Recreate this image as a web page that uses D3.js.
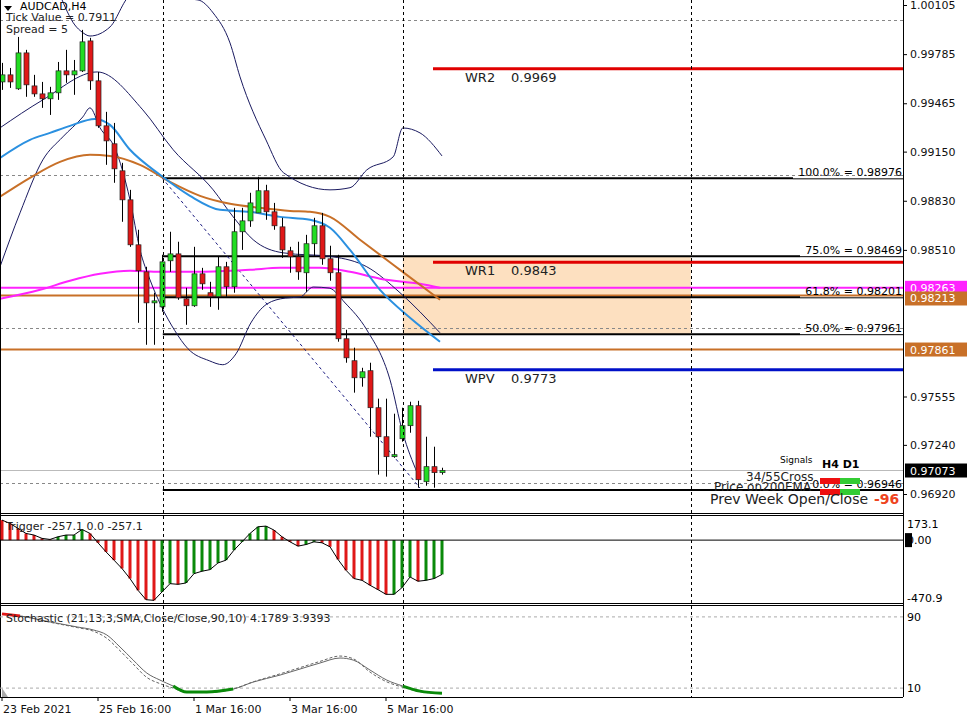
<!DOCTYPE html>
<html><head><meta charset="utf-8">
<script src="https://cdn.jsdelivr.net/npm/d3@7"></script>
<style>body{margin:0;background:#fff}svg{display:block}text{font-family:"DejaVu Sans",sans-serif}</style>
</head><body><svg id="c" width="968" height="720"></svg>
<script>
// ---- data ----
const opens=[.99604,.99650,.99559,.99793,.99578,.99526,.99494,.99533,.99676,.99650,.99676,.99871,.99611,.99318,.99201,.99025,.98836,.98543,.98367,.98165,.98139,.98439,.98484,.98191,.98146,.98354,.98231,.98205,.98400,.98270,.98628,.98699,.98751,.98895,.98758,.98660,.98504,.98465,.98361,.98550,.98667,.98452,.98361,.97931,.97788,.97677,.97723,.97482,.97293,.97163,.97280,.97365,.97495,.97000,.97098,.97059];
const highs=[.99728,.99695,.99897,.99813,.99650,.99604,.99572,.99734,.99813,.99747,.99943,.99891,.99669,.99409,.99337,.99077,.98901,.98641,.98400,.98231,.98478,.98628,.98563,.98263,.98530,.98393,.98302,.98465,.98432,.98784,.98784,.98882,.98986,.98934,.98816,.98719,.98530,.98563,.98608,.98719,.98751,.98537,.98478,.97990,.97873,.97742,.97775,.97541,.97541,.97443,.97482,.97521,.97527,.97293,.97228,.97091];
const lows=[.99552,.99565,.99552,.99507,.99507,.99435,.99389,.99487,.99598,.99520,.99669,.99552,.99305,.99064,.98947,.98693,.98530,.98035,.97892,.97892,.98107,.98367,.98185,.98022,.98139,.98250,.98139,.98120,.98205,.98231,.98510,.98660,.98751,.98706,.98641,.98458,.98361,.98315,.98237,.98465,.98413,.98309,.97912,.97775,.97580,.97619,.97293,.97046,.97033,.97156,.97261,.97319,.96961,.96974,.96961,.97046];
const closes=[.99650,.99604,.99793,.99585,.99526,.99494,.99533,.99676,.99650,.99676,.99865,.99611,.99318,.99220,.99038,.98836,.98543,.98374,.98165,.98178,.98432,.98484,.98198,.98146,.98354,.98289,.98205,.98400,.98270,.98628,.98699,.98816,.98895,.98758,.98667,.98510,.98465,.98367,.98550,.98667,.98452,.98361,.97931,.97807,.97677,.97716,.97482,.97293,.97163,.97176,.97365,.97495,.97013,.97098,.97059,.97073];
const emaFastX=[-0.25,3.5,6,8.5,11.6,13.5,16,19.75,23.5,27.25,31,34.75,38.5,41,43.5,47.25,51,54.75];
const emaFastY=[.99109,.99227,.99272,.99318,.99363,.99324,.99162,.98999,.98862,.98771,.98758,.98725,.98706,.98654,.98510,.98250,.98068,.97912];
const emaSlowX=[-0.25,3.5,7.25,11,13.5,17.25,21,24.75,28.5,32.25,36,38.5,41,44.75,49.75,54.75];
const emaSlowY=[.98856,.98979,.99083,.99129,.99122,.99064,.98953,.98862,.98810,.98784,.98764,.98758,.98725,.98576,.98380,.98185];
const ema200X=[-0.25,4.75,8.5,12.25,16,19.75,24.75,31,34.75,39.75,43.5,47.25,52.25,54.75];
const ema200Y=[.98191,.98250,.98309,.98354,.98374,.98367,.98367,.98380,.98393,.98393,.98367,.98322,.98289,.98263];
const bbUpX=[7.25,9.1,10,11,13.5,16.25,24.5,26.4,28.5,29.75,33,35.2,41,43.5,45.6,48.9,50.1,52.25,55];
const bbUpY=[1.00170,.99975,.99929,.99903,.99962,1.00170,1.00138,1.00053,.99858,.99637,.99226,.99012,.98901,.98915,.99031,.99116,.99304,.99272,.99122];
const bbMidX=[-0.25,5.1,11.9,17.6,21.4,26.4,28.9,31.4,35.1,41.4,45.6,49.75,54.75];
const bbMidY=[.99305,.99487,.99669,.99422,.99162,.98901,.98725,.98576,.98491,.98465,.98400,.98231,.97970];
const bbLoX=[-0.25,2.25,5.1,7.6,10.1,11,12.25,14.1,16,17.25,18.5,19.9,21.6,23.25,25.9,27.6,29.25,31.1,33.1,35.4,37.25,38.9,40.9,42.9,45.6,48.5,50.1,51.9];
const bbLoY=[.98400,.98751,.99096,.99246,.99376,.99435,.99305,.99174,.98836,.98510,.98315,.98145,.97984,.97866,.97788,.97762,.97833,.98034,.98157,.98196,.98203,.98268,.98261,.98164,.97989,.97664,.97318,.97058];
const trend=[[20,.98979],[52.25,.96959]];
const trigger=[150,125,88,50,38,13,5,25,38,38,80,50,-20,-88,-150,-213,-288,-376,-446,-451,-388,-326,-331,-321,-251,-233,-221,-171,-150,-75,-13,50,100,105,75,25,-13,-45,-33,-13,-20,-50,-145,-226,-288,-301,-338,-371,-406,-406,-356,-276,-308,-301,-288,-257];
const stochX=[0,2.25,6,9.4,11.4,13.1,14.75,16.4,18.1,19.75,21.4,23.1,25.6,28.9,31.4,34.75,37.25,39.75,42.25,43.9,46,48.1,50.1,52.25,55];
const stochMain=[93.4,91.1,84.4,78.7,75.4,69.7,56.2,41.5,26.9,19.0,12.3,5.5,5.5,8.9,16.8,24.6,31.4,38.2,43.8,41.5,30.3,19.0,12.3,6.6,4.2];
const stochSig=[93,91,84,78,74,66,52,37,22,15,10,5,5,9,17,26,33,40,46,43,28,17,11,6,3.9];
const priceTicks=[1.00105,0.99785,0.99465,0.99150,0.98830,0.98510,0.97555,0.97240,0.96920];
const gridPrices=[1.00007,0.98998,0.98003,0.96994];
const timeIdx=[0,12,24,36,48];
const timeLabels=["23 Feb 2021","25 Feb 16:00","1 Mar 16:00","3 Mar 16:00","5 Mar 16:00"];
const vGridIdx=[20.1,50.1,86.1];
const fibLevels=[{p:0.98976,t:"100.0% = 0.98976"},{p:0.98469,t:"75.0% = 0.98469"},{p:0.98201,t:"61.8% = 0.98201"},{p:0.97961,t:"50.0% = 0.97961"},{p:0.96946,t:"0.0% = 0.96946"}];
const pivots=[{p:0.9969,t:"WR2",c:"#e00000"},{p:0.9843,t:"WR1",c:"#e00000"},{p:0.9773,t:"WPV",c:"#0010c8"}];
const hLines=[{p:0.98263,c:"#ff22ff",lab:"0.98263"},{p:0.98213,c:"#c87028",lab:"0.98213"},{p:0.97861,c:"#c87028",lab:"0.97861"}];
const current=0.97073;

// ---- drawing ----
const svg=d3.select("#c");
const x=d3.scaleLinear().domain([0,55]).range([2,442]);
const y=d3.scaleLinear().domain([0.96920,1.00105]).range([494,5]);
const yt=d3.scaleLinear().domain([-470.9,173.1]).range([603,517]);
const ys=d3.scaleLinear().domain([0,100]).range([697,608]);
const R=903;
const defs=svg.append("defs");
defs.append("clipPath").attr("id","cm").append("rect").attr("x",0).attr("y",0).attr("width",R).attr("height",513);

const main=svg.append("g").attr("clip-path","url(#cm)");
main.append("rect").attr("x",x(vGridIdx[1])).attr("width",x(vGridIdx[2])-x(vGridIdx[1])).attr("y",y(0.98469)).attr("height",y(0.97961)-y(0.98469)).attr("fill","#fde0c0");
gridPrices.forEach(p=>main.append("line").attr("x1",0).attr("x2",R).attr("y1",Math.round(y(p))+.5).attr("y2",Math.round(y(p))+.5).attr("stroke","#888").attr("stroke-dasharray","3,3"));
vGridIdx.forEach(i=>svg.append("line").attr("x1",Math.round(x(i))+.5).attr("x2",Math.round(x(i))+.5).attr("y1",0).attr("y2",697).attr("stroke","#000").attr("stroke-dasharray","3,3"));
main.append("line").attr("x1",0).attr("x2",R).attr("y1",y(current)).attr("y2",y(current)).attr("stroke","#bbb");
hLines.forEach(h=>main.append("line").attr("x1",0).attr("x2",R).attr("y1",y(h.p)).attr("y2",y(h.p)).attr("stroke",h.c).attr("stroke-width",2));
fibLevels.forEach((f,k)=>{
  const yy=y(f.p);
  main.append("line").attr("x1",x(vGridIdx[0])).attr("x2",k==4?R:(k==0?793:800)).attr("y1",yy).attr("y2",yy).attr("stroke","#000").attr("stroke-width",2);
  main.append("line").attr("x1",k==0?793:800).attr("x2",R).attr("y1",yy+.5).attr("y2",yy+.5).attr("stroke","#000");
  if(k<4) main.append("text").attr("x",R-1).attr("y",yy-2).attr("text-anchor","end").attr("font-size",11).text(f.t);
});
pivots.forEach(p=>{
  main.append("line").attr("x1",433).attr("x2",R).attr("y1",y(p.p)).attr("y2",y(p.p)).attr("stroke",p.c).attr("stroke-width",3);
  main.append("text").attr("x",465).attr("y",y(p.p)+13).attr("font-size",13).attr("fill","#222").text(p.t);
  main.append("text").attr("x",511).attr("y",y(p.p)+13).attr("font-size",13).attr("fill","#222").text(p.p.toFixed(4));
});
const ln=(xs,vs,sc)=>d3.line().curve(d3.curveMonotoneX).x((d,i)=>x(xs[i])).y(d=>sc(d))(vs);
[[bbUpX,bbUpY],[bbMidX,bbMidY],[bbLoX,bbLoY]].forEach(a=>main.append("path").attr("d",ln(a[0],a[1],y)).attr("fill","none").attr("stroke","#1a1a60").attr("stroke-width",1));
main.append("path").attr("d",d3.line()(trend.map(d=>[x(d[0]),y(d[1])]))).attr("stroke","#1a1a80").attr("stroke-dasharray","3,3").attr("fill","none");
main.append("path").attr("d",ln(ema200X,ema200Y,y)).attr("fill","none").attr("stroke","#ff22ff").attr("stroke-width",2);
main.append("path").attr("d",ln(emaSlowX,emaSlowY,y)).attr("fill","none").attr("stroke","#c87028").attr("stroke-width",2);
main.append("path").attr("d",ln(emaFastX,emaFastY,y)).attr("fill","none").attr("stroke","#2b90e0").attr("stroke-width",2);
opens.forEach((o,i)=>{
  const c=closes[i],cx=Math.round(x(i))+.5;
  main.append("line").attr("x1",cx).attr("x2",cx).attr("y1",y(highs[i])).attr("y2",y(lows[i])).attr("stroke","#000");
  const t=y(Math.max(o,c)),b=y(Math.min(o,c));
  main.append("rect").attr("x",cx-2.5).attr("width",5).attr("y",t).attr("height",Math.max(1.5,b-t)).attr("fill",c>=o?"#22dd22":"#e01818").attr("stroke","#222").attr("stroke-width",.7);
});
svg.append("path").attr("d","M4,6 L12,6 L8,11 Z").attr("fill","#000");
svg.append("text").attr("x",20).attr("y",10).attr("font-size",11).text("AUDCAD,H4");
svg.append("text").attr("x",6).attr("y",21).attr("font-size",11).attr("fill","#222").text("Tick Value = 0.7911");
svg.append("text").attr("x",6).attr("y",33).attr("font-size",11).attr("fill","#222").text("Spread = 5");
svg.append("text").attr("x",780).attr("y",463).attr("font-size",9).text("Signals");
svg.append("text").attr("x",822).attr("y",468).attr("font-size",11).attr("font-weight","bold").text("H4  D1");
svg.append("text").attr("x",746).attr("y",481).attr("font-size",12).attr("fill","#222").text("34/55Cross");
svg.append("text").attr("x",714).attr("y",491).attr("font-size",12).attr("fill","#222").text("Price on200EMA");
svg.append("text").attr("x",R-1).attr("y",488).attr("text-anchor","end").attr("font-size",11).text("0.0% = 0.96946");
[[820,478,"#ee1010"],[840,478,"#33cc33"],[820,489,"#ee1010"],[840,489,"#33cc33"]].forEach(b=>svg.append("rect").attr("x",b[0]).attr("y",b[1]).attr("width",20).attr("height",6).attr("fill",b[2]));
svg.append("text").attr("x",710).attr("y",504).attr("font-size",14).attr("fill","#222").text("Prev Week Open/Close");
svg.append("text").attr("x",874).attr("y",504).attr("font-size",14).attr("font-weight","bold").attr("fill","#ee4420").text("-96");

svg.append("line").attr("x1",R+.5).attr("x2",R+.5).attr("y1",0).attr("y2",697).attr("stroke","#000");
[513.5,515.5,603.5,605.5,697.5].forEach(v=>svg.append("line").attr("x1",0).attr("x2",R).attr("y1",v).attr("y2",v).attr("stroke","#000"));
svg.append("line").attr("x1",.5).attr("x2",.5).attr("y1",0).attr("y2",697).attr("stroke","#000");

const ax=svg.append("g").attr("transform",`translate(${R},0)`).call(d3.axisRight(y).tickValues(priceTicks).tickFormat(d3.format(".5f")).tickSize(4));
ax.select(".domain").remove();
ax.selectAll("text").attr("font-size",11).attr("font-family","DejaVu Sans").attr("fill","#111");
hLines.forEach((h,k)=>{
  const yy=y(h.p)+(k==1?3:0);
  svg.append("rect").attr("x",R+2).attr("y",yy-7).attr("width",62).attr("height",14).attr("fill",h.c);
  svg.append("text").attr("x",R+7).attr("y",yy+4).attr("font-size",11).attr("fill","#fff").text(h.lab);
});
svg.append("rect").attr("x",R+2).attr("y",y(current)-7).attr("width",62).attr("height",14).attr("fill","#000");
svg.append("text").attr("x",R+7).attr("y",y(current)+4).attr("font-size",11).attr("fill","#fff").text(current.toFixed(5));

trigger.forEach((v,i)=>{
  const col=(i==0||v<trigger[i-1])?"#e01818":"#0a8a0a";
  svg.append("rect").attr("x",x(i)-1.5).attr("width",3).attr("y",Math.min(yt(v),yt(0))).attr("height",Math.abs(yt(v)-yt(0))).attr("fill",col);
});
svg.append("path").attr("d",d3.line().x((d,i)=>x(i)).y(d=>yt(d))(trigger)).attr("fill","none").attr("stroke","#000");
svg.append("line").attr("x1",0).attr("x2",R).attr("y1",yt(0)).attr("y2",yt(0)).attr("stroke","#000");
svg.append("text").attr("x",6).attr("y",530).attr("font-size",11).attr("fill","#222").text("Trigger -257.1 0.0 -257.1");
svg.append("text").attr("x",907).attr("y",528).attr("font-size",11).text("173.1");
svg.append("rect").attr("x",905).attr("y",yt(0)-7).attr("width",7).attr("height",14).attr("fill","#000");
svg.append("text").attr("x",907).attr("y",yt(0)+4).attr("font-size",11).text("0.00");
svg.append("text").attr("x",907).attr("y",602).attr("font-size",11).text("-470.9");

[90,10].forEach(v=>svg.append("line").attr("x1",0).attr("x2",R).attr("y1",ys(v)).attr("y2",ys(v)).attr("stroke","#aaa").attr("stroke-dasharray","3,3"));
const sl=(vals)=>d3.line().curve(d3.curveMonotoneX).x((d,i)=>x(stochX[i])).y(d=>ys(d))(vals);
svg.append("path").attr("d",sl(stochSig)).attr("fill","none").attr("stroke","#666").attr("stroke-dasharray","3,2");
svg.append("path").attr("d",sl(stochMain)).attr("fill","none").attr("stroke","#666");
const seg=(a,b,col)=>svg.append("path").attr("d",d3.line().curve(d3.curveMonotoneX).x(d=>x(stochX[d])).y(d=>ys(stochMain[d]))(d3.range(a,b+1))).attr("fill","none").attr("stroke",col).attr("stroke-width",3);
seg(0,1,"#e01818"); seg(10,13,"#0a8a0a"); seg(22,24,"#0a8a0a");
svg.append("text").attr("x",6).attr("y",622).attr("font-size",11).attr("fill","#222").text("Stochastic (21,13,3,SMA,Close/Close,90,10) 4.1789 3.9393");
svg.append("text").attr("x",907).attr("y",621).attr("font-size",11).text("90");
svg.append("text").attr("x",907).attr("y",692).attr("font-size",11).text("10");
svg.append("path").attr("d","M2,688 L2,697 L8,697 Z").attr("fill","#aaa");

timeIdx.forEach((t,k)=>{
  svg.append("line").attr("x1",x(t)).attr("x2",x(t)).attr("y1",697).attr("y2",701).attr("stroke","#000");
  svg.append("text").attr("x",x(t)+1).attr("y",713).attr("font-size",11).attr("fill","#111").text(timeLabels[k]);
});
</script></body></html>
